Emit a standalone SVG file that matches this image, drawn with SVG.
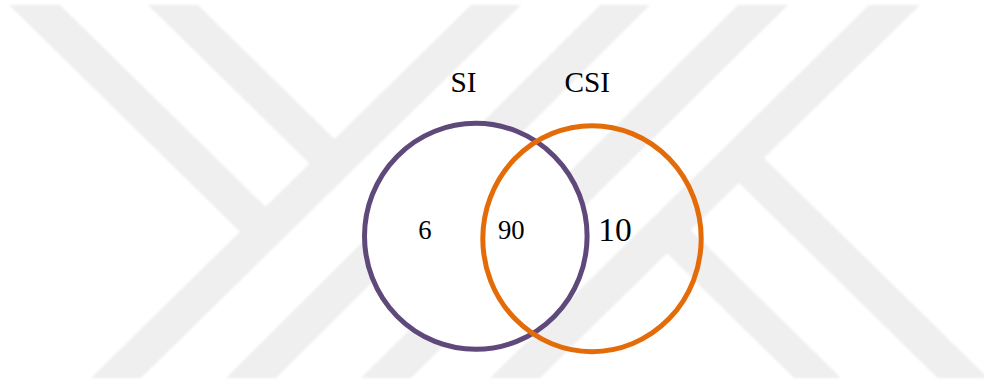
<svg xmlns="http://www.w3.org/2000/svg" width="984" height="386" viewBox="0 0 984 386">
  <style>
    .wm { fill: #efefef; stroke: none; }
    .lbl { font-family: "Liberation Serif", "Times New Roman", serif; fill: #000000; }
    .set { stroke-width: 5; }
  </style>
  <defs>
    <filter id="soft" x="-2%" y="-2%" width="104%" height="104%">
      <feGaussianBlur stdDeviation="0.8"/>
    </filter>
  </defs>
  <rect x="0" y="0" width="984" height="386" fill="#ffffff"/>
  <g id="watermark" filter="url(#soft)">
    <polygon class="wm" points="471,5 521,5 141,378 91,378"/>
    <polygon class="wm" points="600,5 650,5 276,378 226,378"/>
    <polygon class="wm" points="738,5 788,5 411,378 361,378"/>
    <polygon class="wm" points="869,5 920,5 540,378 490,378"/>
    <polygon class="wm" points="9,5 60,5 277.9,219 252.4,244.1"/>
    <polygon class="wm" points="148,5 198,5 346.9,151.3 321.9,175.8"/>
    <polygon class="wm" points="751.5,145.8 988,378 937.5,378 726.3,170.5"/>
    <polygon class="wm" points="678.4,218 841,378 794,378 654.6,241.1"/>
  </g>
  <g id="node-SI">
    <ellipse class="set" cx="475.8" cy="236.3" rx="111.3" ry="113" fill="#ffffff" stroke="#5f497a"/>
    <text class="lbl" x="450.5" y="91.5" font-size="29.3">SI</text>
  </g>
  <g id="node-CSI">
    <ellipse class="set" cx="592" cy="238.7" rx="109.2" ry="113" fill="none" stroke="#e36c09"/>
    <text class="lbl" x="564.5" y="91.5" font-size="29.3">CSI</text>
  </g>
  <g id="counts">
    <text class="lbl" x="418.3" y="238.6" font-size="26.7">6</text>
    <text class="lbl" x="498" y="238.6" font-size="26.7">90</text>
    <text class="lbl" x="598.3" y="241.2" font-size="33.5">10</text>
  </g>
  <g id="connectors"/>
</svg>
